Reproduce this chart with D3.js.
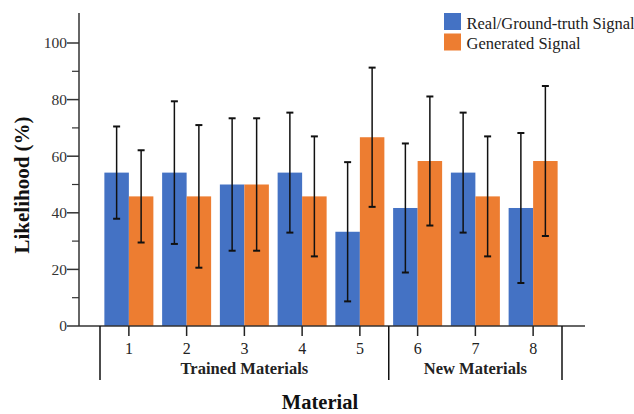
<!DOCTYPE html>
<html>
<head>
<meta charset="utf-8">
<script src="https://cdn.jsdelivr.net/npm/d3@7"></script>
<style>
  html, body { margin: 0; padding: 0; background: #fff; }
  svg { display: block; }
  text { font-family: "Liberation Serif", "Times New Roman", serif; }
</style>
</head>
<body>
<svg id="chart" width="634" height="414"></svg>
<script>
// Materials on the x axis
const materials = ["1", "2", "3", "4", "5", "6", "7", "8"];
// Mean likelihood (%) per material
const realValues = [54.2, 54.2, 50.0, 54.2, 33.3, 41.7, 54.2, 41.7];
const generatedValues = [45.8, 45.8, 50.0, 45.8, 66.7, 58.3, 45.8, 58.3];
// Standard deviations for the error bars
const realErrors = [16.3, 25.2, 23.4, 21.2, 24.6, 22.8, 21.2, 26.5];
const generatedErrors = [16.3, 25.2, 23.4, 21.2, 24.6, 22.8, 21.2, 26.5];
// Material groups below the axis
const groups = [
  { label: "Trained Materials", from: "1", to: "5" },
  { label: "New Materials", from: "6", to: "8" }
];
const seriesNames = ["Real/Ground-truth Signal", "Generated Signal"];
const seriesColors = ["#4472C4", "#ED7D31"];
const yTicks = [0, 20, 40, 60, 80, 100];
const yMinorTicks = [10, 30, 50, 70, 90];

const svg = d3.select("#chart");

const y = d3.scaleLinear().domain([0, 110.6]).range([326, 13]);
const x = d3.scaleBand().domain(materials).range([100, 562]).padding(0);
const barW = 24.5;
const axisX = 79;
const baseY = y(0);

// Bars
const series = [
  { values: realValues, errors: realErrors, color: seriesColors[0], off: -barW },
  { values: generatedValues, errors: generatedErrors, color: seriesColors[1], off: 0 }
];
series.forEach(s => {
  const cx = m => x(m) + x.bandwidth() / 2;
  svg.append("g").selectAll("rect")
    .data(materials)
    .join("rect")
    .attr("x", (m) => cx(m) + s.off)
    .attr("width", barW)
    .attr("y", (m, i) => y(s.values[i]))
    .attr("height", (m, i) => baseY - y(s.values[i]))
    .attr("fill", s.color);
});

// Error bars
series.forEach(s => {
  const g = svg.append("g").attr("stroke", "#111");
  materials.forEach((m, i) => {
    const ex = x(m) + x.bandwidth() / 2 + s.off + barW / 2;
    const hi = y(s.values[i] + s.errors[i]);
    const lo = y(s.values[i] - s.errors[i]);
    g.append("line").attr("x1", ex).attr("x2", ex).attr("y1", hi).attr("y2", lo).attr("stroke-width", 1.5);
    [hi, lo].forEach(yy => {
      g.append("line").attr("x1", ex - 3.5).attr("x2", ex + 3.5).attr("y1", yy).attr("y2", yy).attr("stroke-width", 2);
    });
  });
});

// Y axis
const yAxis = svg.append("g").attr("transform", `translate(${axisX},0)`);
yAxis.append("line").attr("x1", 0).attr("x2", 0).attr("y1", y(110.6)).attr("y2", baseY)
  .attr("stroke", "#333").attr("stroke-width", 1.5);
yAxis.selectAll(".major").data(yTicks).join("line")
  .attr("x1", -12).attr("x2", 0).attr("y1", d => y(d)).attr("y2", d => y(d))
  .attr("stroke", "#333").attr("stroke-width", 1.5);
yAxis.selectAll(".minor").data(yMinorTicks).join("line")
  .attr("x1", -7).attr("x2", 0).attr("y1", d => y(d)).attr("y2", d => y(d))
  .attr("stroke", "#333").attr("stroke-width", 1.2);
yAxis.selectAll("text").data(yTicks).join("text")
  .attr("x", -12).attr("y", d => y(d)).attr("dy", "0.35em")
  .attr("text-anchor", "end").attr("font-size", 15.5).attr("fill", "#333")
  .text(d => d);

// X axis
const xAxis = svg.append("g");
xAxis.append("line").attr("x1", axisX).attr("x2", 585).attr("y1", baseY).attr("y2", baseY)
  .attr("stroke", "#333").attr("stroke-width", 1.5);
xAxis.selectAll(".tick").data(materials).join("line")
  .attr("x1", m => x(m) + x.bandwidth() / 2).attr("x2", m => x(m) + x.bandwidth() / 2)
  .attr("y1", baseY).attr("y2", baseY + 10)
  .attr("stroke", "#222").attr("stroke-width", 1.5);
xAxis.selectAll("text").data(materials).join("text")
  .attr("x", m => x(m) + x.bandwidth() / 2).attr("y", baseY + 28)
  .attr("text-anchor", "middle").attr("font-size", 16).attr("fill", "#222")
  .text(m => m);

// Group dividers and labels
const dividers = [x("1"), x("5") + x.bandwidth(), x("8") + x.bandwidth()];
svg.append("g").selectAll("line").data(dividers).join("line")
  .attr("x1", d => d).attr("x2", d => d).attr("y1", baseY).attr("y2", 380)
  .attr("stroke", "#111").attr("stroke-width", 1.5);
svg.append("g").selectAll("text").data(groups).join("text")
  .attr("x", g => (x(g.from) + x(g.to) + x.bandwidth()) / 2)
  .attr("y", 373.5)
  .attr("text-anchor", "middle").attr("font-size", 16.5).attr("font-weight", "bold").attr("fill", "#222")
  .text(g => g.label);

// Axis titles
svg.append("text").attr("x", 320).attr("y", 408.5)
  .attr("text-anchor", "middle").attr("font-size", 20.5).attr("font-weight", "bold").attr("fill", "#111")
  .text("Material");
svg.append("text").attr("transform", "translate(28.5,185) rotate(-90)")
  .attr("text-anchor", "middle").attr("font-size", 21).attr("font-weight", "bold").attr("fill", "#111")
  .text("Likelihood (%)");

// Legend
const legend = svg.append("g").attr("transform", "translate(444,13)");
seriesNames.forEach((name, i) => {
  legend.append("rect").attr("x", 0).attr("y", i * 20.5).attr("width", 17).attr("height", 17).attr("fill", seriesColors[i]);
  legend.append("text").attr("x", 22.5).attr("y", i * 20 + 16)
    .attr("font-size", 16.5).attr("fill", "#222").text(name);
});
</script>
</body>
</html>
